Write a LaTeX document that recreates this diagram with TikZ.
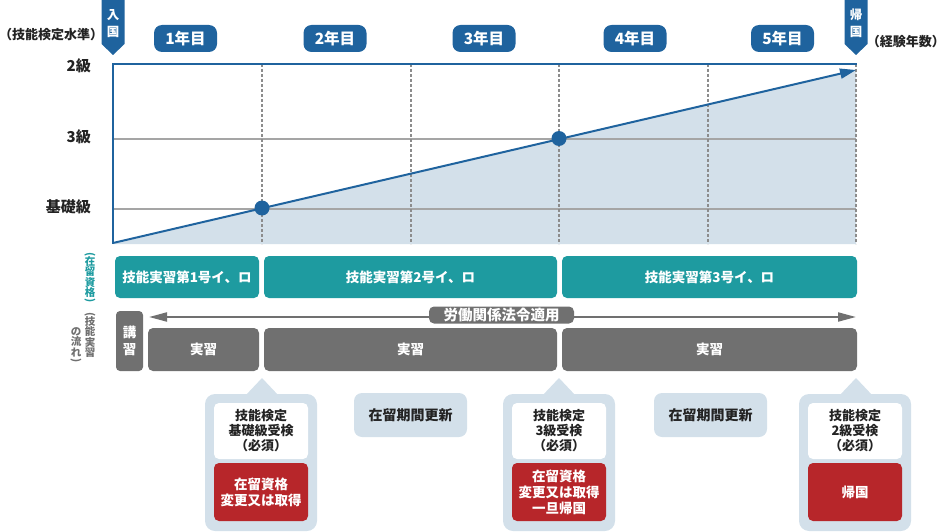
\documentclass[tikz,border=0pt]{standalone}
\usepackage{fontspec}
\usepackage{graphicx}
\setmainfont{Noto Sans CJK JP}
\usetikzlibrary{arrows.meta}
\definecolor{cblue}{RGB}{31,99,158}
\definecolor{cfill}{RGB}{211,224,234}
\definecolor{cgrid}{RGB}{165,165,165}
\definecolor{cteal}{RGB}{30,155,160}
\definecolor{cgray}{RGB}{112,112,112}
\definecolor{cred}{RGB}{183,38,42}
\definecolor{ctext}{RGB}{35,35,35}
\newcommand{\vop}{\rotatebox[origin=c]{-90}{(}}
\newcommand{\vcl}{\rotatebox[origin=c]{-90}{)}}
\begin{document}
\begin{tikzpicture}[x=1pt,y=-1pt,
  yearpill/.style={fill=cblue, rounded corners=8pt, text=white, font=\fontsize{15.5}{17}\selectfont\bfseries, minimum width=63pt, minimum height=27pt, inner sep=0pt},
  banner/.style={fill=cblue},
  bannertxt/.style={text=white, font=\fontsize{12.5}{14}\selectfont\bfseries, inner sep=0pt},
  axislbl/.style={text=ctext, font=\fontsize{15}{17}\selectfont\bfseries, anchor=east, inner sep=0pt},
  sidelbl/.style={text=ctext, font=\fontsize{13}{15}\selectfont\bfseries, inner sep=0pt},
  tealbox/.style={fill=cteal, rounded corners=5pt, text=white, font=\fontsize{13.5}{16}\selectfont\bfseries, minimum height=42pt, inner sep=0pt},
  graybox/.style={fill=cgray, rounded corners=5pt, text=white, font=\fontsize{13.5}{16}\selectfont\bfseries, minimum height=43pt, inner sep=0pt},
  vlbl/.style={font=\fontsize{10.5}{10.5}\selectfont\bfseries, align=center, inner sep=0pt},
  calloutbg/.style={fill=cfill, rounded corners=10pt},
  whitebox/.style={fill=white, rounded corners=5pt, text=ctext, align=center, font=\fontsize{13}{15}\selectfont\bfseries, minimum width=94pt, minimum height=56pt, inner sep=0pt},
  redbox/.style={fill=cred, rounded corners=5pt, text=white, align=center, font=\fontsize{13.5}{16}\selectfont\bfseries, minimum width=94pt, minimum height=58pt, inner sep=0pt},
  renewbox/.style={fill=cfill, rounded corners=8pt, text=ctext, font=\fontsize{14}{16}\selectfont\bfseries, minimum width=113pt, minimum height=44pt, inner sep=0pt},
  gridline/.style={cgrid, line width=1.6pt},
  vdash/.style={cgrid!85!black, line width=1.5pt, dash pattern=on 3pt off 2pt},
]
\useasboundingbox (0,0) rectangle (944,532);

% ---------- chart ----------
\fill[cfill] (113,244) -- (856,70) -- (856,244) -- cycle;
\draw[gridline] (113,139) -- (856,139);
\draw[gridline] (113,209) -- (856,209);
\foreach \xx in {262,411,559,708,856}
  \draw[vdash] (\xx,64) -- (\xx,244);
\draw[cblue, line width=2.5pt] (113,244) -- (113,64) -- (857,64);
\coordinate (start) at (113,243);
\coordinate (goal) at (856,70);
\draw[cblue, line width=2pt, -{Triangle[length=16pt,width=10pt]}] (start) -- (goal);
\node[circle, fill=cblue, minimum size=15pt, inner sep=0pt] (dot1) at (262,208) {};
\node[circle, fill=cblue, minimum size=15pt, inner sep=0pt] (dot2) at (559,138.5) {};

% axis labels
\node[axislbl] (l2) at (91,66) {2級};
\node[axislbl] (l3) at (91,137) {3級};
\node[axislbl] (lb) at (91,207) {基礎級};
\node[sidelbl, anchor=west] (lv) at (-1,35) {（技能検定水準）};
\node[sidelbl, anchor=east] (ly) at (945,42) {（経験年数）};

% banners
\fill[banner] (101.5,0) -- (124.5,0) -- (124.5,44) -- (113,55) -- (101.5,44) -- cycle;
\node[bannertxt] (in1) at (113,15) {入};
\node[bannertxt] (in2) at (113,32) {国};
\fill[banner] (844.5,0) -- (867.5,0) -- (867.5,44) -- (856,55) -- (844.5,44) -- cycle;
\node[bannertxt] (out1) at (856,15) {帰};
\node[bannertxt] (out2) at (856,32) {国};

% year pills
\node[yearpill] (y1) at (185.5,38.5) {1年目};
\node[yearpill] (y2) at (335,38.5) {2年目};
\node[yearpill] (y3) at (484,38.5) {3年目};
\node[yearpill] (y4) at (635,38.5) {4年目};
\node[yearpill] (y5) at (782.5,38.5) {5年目};

% ---------- status row ----------
\node[tealbox, minimum width=144pt] (s1) at (187,277) {技能実習第1号イ、ロ};
\node[tealbox, minimum width=293pt] (s2) at (410.5,277) {技能実習第2号イ、ロ};
\node[tealbox, minimum width=295pt] (s3) at (709.5,277) {技能実習第3号イ、ロ};
\node[vlbl, text=cteal, anchor=north] (vs) at (90,252) {\vop\\[-3pt]在\\留\\資\\格\\[-3pt]\vcl};

% ---------- flow row ----------
\node[vlbl, text=cgray, anchor=north] (vf1) at (90,312) {\vop\\[-3pt]技\\能\\実\\習};
\node[vlbl, text=cgray, anchor=north] (vf2) at (76,327) {の\\流\\れ\\[-3pt]\vcl};
\node[fill=cgray, rounded corners=4pt, minimum width=27pt, minimum height=60pt, inner sep=0pt, text=white, align=center, font=\fontsize{13.5}{17}\selectfont\bfseries] (kosyu) at (129.5,341) {講\\習};
\coordinate (al) at (149,317);
\coordinate (ar) at (856,317);
\draw[cgray, line width=2pt, {Triangle[length=18pt,width=9pt]}-{Triangle[length=18pt,width=9pt]}] (al) -- (ar);
\node[fill=cgray, rounded corners=5pt, minimum width=145pt, minimum height=17pt, inner sep=0pt, text=white, font=\fontsize{14.5}{15}\selectfont\bfseries] (law) at (501.5,315) {労働関係法令適用};
\node[graybox, minimum width=111pt] (j1) at (203.5,349.5) {実習};
\node[graybox, minimum width=293pt] (j2) at (410.5,349.5) {実習};
\node[graybox, minimum width=295pt] (j3) at (709.5,349.5) {実習};

% ---------- callouts ----------
% 1
\fill[cfill] (245,396) -- (262,378) -- (279,396) -- cycle;
\fill[calloutbg] (205,394) rectangle (317,531);
\node[whitebox] (w1) at (261,431) {技能検定\\基礎級受検\\（必須）};
\node[redbox] (r1) at (261,492) {在留資格\\変更又は取得};
% 2
\node[renewbox] (u1) at (410.5,415) {在留期間更新};
% 3
\fill[cfill] (542,396) -- (559,378) -- (576,396) -- cycle;
\fill[calloutbg] (503,394) rectangle (615,531);
\node[whitebox] (w2) at (559,431) {技能検定\\3級受検\\（必須）};
\node[redbox] (r2) at (559,492) {在留資格\\変更又は取得\\一旦帰国};
% 4
\node[renewbox] (u2) at (710.5,415) {在留期間更新};
% 5
\fill[cfill] (839,396) -- (856,378) -- (873,396) -- cycle;
\fill[calloutbg] (799,394) rectangle (911,531);
\node[whitebox] (w3) at (855,431) {技能検定\\2級受検\\（必須）};
\node[redbox] (r3) at (855,492) {帰国};
\end{tikzpicture}
\end{document}
